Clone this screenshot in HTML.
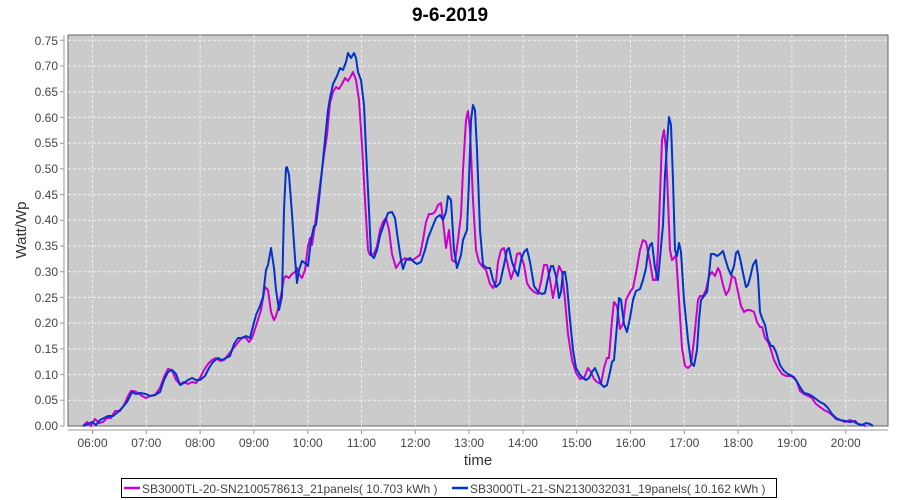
<!DOCTYPE html><html><head><meta charset="utf-8"><style>body{margin:0;background:#fff}svg{display:block}text{font-family:"Liberation Sans",sans-serif}</style></head><body>
<svg width="900" height="500" viewBox="0 0 900 500">
<text x="450" y="21" text-anchor="middle" font-size="19" font-weight="bold">9-6-2019</text>
<rect x="68" y="35" width="820" height="391" fill="#cbcbcb" stroke="#666"/>
<g stroke="#eee" stroke-dasharray="3,2" stroke-width="1">
<path d="M68 40.3H888M68 66H888M68 91.7H888M68 117.4H888M68 143.2H888M68 168.9H888M68 194.6H888M68 220.3H888M68 246H888M68 271.7H888M68 297.4H888M68 323.1H888M68 348.9H888M68 374.6H888M68 400.3H888"/>
<path d="M92.5 35V426M146.3 35V426M200.1 35V426M253.9 35V426M307.7 35V426M361.5 35V426M415.3 35V426M469.1 35V426M522.9 35V426M576.7 35V426M630.5 35V426M684.3 35V426M738.1 35V426M791.9 35V426M845.7 35V426"/>
</g>
<g stroke="#999"><path d="M64 35V426M68 430H888"/>
<path d="M60 40.3h4M60 66h4M60 91.7h4M60 117.4h4M60 143.2h4M60 168.9h4M60 194.6h4M60 220.3h4M60 246h4M60 271.7h4M60 297.4h4M60 323.1h4M60 348.9h4M60 374.6h4M60 400.3h4M60 426h4"/>
<path d="M92.5 430v4M146.3 430v4M200.1 430v4M253.9 430v4M307.7 430v4M361.5 430v4M415.3 430v4M469.1 430v4M522.9 430v4M576.7 430v4M630.5 430v4M684.3 430v4M738.1 430v4M791.9 430v4M845.7 430v4"/></g>
<g font-size="12" fill="#444" text-anchor="end">
<text x="58" y="45">0.75</text><text x="58" y="70">0.70</text><text x="58" y="96">0.65</text><text x="58" y="122">0.60</text><text x="58" y="147">0.55</text><text x="58" y="173">0.50</text><text x="58" y="199">0.45</text><text x="58" y="224">0.40</text><text x="58" y="250">0.35</text><text x="58" y="276">0.30</text><text x="58" y="302">0.25</text><text x="58" y="327">0.20</text><text x="58" y="353">0.15</text><text x="58" y="379">0.10</text><text x="58" y="404">0.05</text><text x="58" y="430">0.00</text></g>
<g font-size="12" fill="#444" text-anchor="middle">
<text x="92.5" y="447">06:00</text><text x="146.3" y="447">07:00</text><text x="200.1" y="447">08:00</text><text x="253.9" y="447">09:00</text><text x="307.7" y="447">10:00</text><text x="361.5" y="447">11:00</text><text x="415.3" y="447">12:00</text><text x="469.1" y="447">13:00</text><text x="522.9" y="447">14:00</text><text x="576.7" y="447">15:00</text><text x="630.5" y="447">16:00</text><text x="684.3" y="447">17:00</text><text x="738.1" y="447">18:00</text><text x="791.9" y="447">19:00</text><text x="845.7" y="447">20:00</text></g>
<text x="478" y="465" text-anchor="middle" font-size="15" fill="#333">time</text>
<text transform="translate(26 230) rotate(-90)" text-anchor="middle" font-size="15" fill="#333">Watt/Wp</text>
<polyline fill="none" stroke="#cc00cc" stroke-width="2" stroke-linejoin="round" points="83,426 87,422 91,426 95,419 99,423 103,422 107,418 111,418 115,411 120,411 124,405 128,396 131,391 134,391 138,393 142,396 146,398 150,396 155,395 160,388 164,377 168,369 172,370 176,380 180,384 184,382 188,384 192,382 196,383 200,378 204,370 208,364 212,360 216,358 220,361 224,360 228,355 232,350 236,345 240,340 243,337 246,338 249,342 252,338 256,326 261,310 265,287 268,290 271,312 274,320 276,316 279,305 282,290 284,278 286,276 289,278 292,274 295,272 297,268 299,274 302,278 305,270 308,246 310,238 312,245 315,225 318,200 321,178 324,155 327,135 330,103 333,92 336,87 339,89 342,84 345,78 348,81 351,76 353,72 356,80 359,100 362,145 365,200 368,250 370,255 374,254 377,246 380,230 383,222 386,218 389,230 392,254 396,268 400,262 405,258 409,260 413,260 417,257 420,255 423,240 426,222 429,214 432,214 435,212 438,205 441,203 444,230 446,248 449,230 452,260 455,262 458,240 461,215 463,170 466,120 468,111 470,130 473,200 476,250 479,262 482,266 486,270 490,284 493,288 496,282 498,262 501,250 504,248 508,266 511,279 514,270 517,254 520,253 524,265 527,283 530,288 534,292 538,294 541,282 544,265 547,265 550,280 553,298 556,282 559,266 562,272 565,300 568,334 572,360 576,373 580,379 584,378 588,368 591,372 594,379 597,382 601,384 604,368 607,358 609,358 612,320 614,302 617,306 620,329 623,324 626,300 630,292 633,288 636,273 640,250 643,240 646,242 650,262 653,280 656,280 658,250 660,195 662,140 664,130 666,150 668,200 670,250 672,260 674,258 676,255 679,300 682,348 685,366 688,368 691,365 694,340 696,320 698,300 700,296 703,296 706,290 709,276 712,272 715,276 718,268 720,272 723,285 726,295 729,290 732,276 735,278 738,292 741,306 744,312 747,310 750,310 754,312 757,322 760,327 762,327 765,338 768,342 771,350 774,360 778,368 782,374 786,376 790,376 794,377 797,382 800,391 804,394 808,396 812,398 816,404 820,407 824,410 828,412 832,415 836,419 840,420 845,422 850,420 854,422 858,424 862,425 866,426"/>
<polyline fill="none" stroke="#0033cc" stroke-width="2" stroke-linejoin="round" points="83,426 88,424 92,422 96,425 100,420 104,418 108,416 113,416 118,412 122,408 127,402 132,392 136,394 140,393 146,394 150,396 155,395 160,392 164,380 168,372 172,370 176,374 180,385 184,383 188,380 192,378 196,380 200,380 205,376 209,368 213,362 218,358 222,360 226,358 230,356 234,344 238,338 242,338 246,336 250,338 252,330 256,315 260,306 263,297 266,270 268,265 271,248 274,268 276,290 279,310 282,296 284,210 286,168 287,167 289,175 292,214 295,258 297,283 299,270 302,261 305,263 308,266 311,240 314,226 316,225 319,200 322,170 325,140 328,110 330,98 333,84 337,76 340,68 343,70 346,62 348,53 351,58 354,53 356,58 358,72 361,80 364,105 366,150 369,210 371,255 374,258 377,250 380,236 384,224 388,213 392,212 395,218 398,240 401,260 403,269 406,260 410,258 414,262 417,264 421,262 425,250 428,238 432,228 436,218 440,215 443,220 446,212 448,196 451,200 454,250 457,268 461,255 463,240 467,230 469,180 471,120 473,105 475,110 477,150 480,230 483,265 487,268 490,268 493,280 496,287 500,283 504,265 507,250 509,248 512,262 515,270 518,276 521,260 524,252 527,249 530,262 534,286 538,292 542,294 545,293 548,278 551,266 553,266 556,276 559,298 561,292 563,272 565,272 567,285 570,320 573,350 576,368 580,375 583,378 586,380 589,378 592,372 595,368 598,375 601,384 604,387 607,385 610,372 612,362 614,360 617,325 619,298 621,300 624,324 627,332 630,318 633,300 636,291 640,289 643,280 646,268 648,252 650,245 652,243 655,268 658,280 660,258 663,225 665,175 668,130 669,117 671,125 673,180 675,250 677,256 679,243 681,252 684,300 688,340 691,362 694,366 697,350 699,320 701,300 704,296 707,292 709,275 711,254 714,254 717,256 720,254 723,251 725,258 728,268 731,275 734,266 736,253 738,251 740,258 743,273 746,287 748,285 750,278 753,265 756,260 758,276 760,312 762,318 765,325 768,340 771,346 773,346 776,352 780,365 784,371 788,374 792,376 796,380 800,387 804,393 808,394 812,396 816,399 820,402 824,404 828,408 832,414 836,418 840,420 845,421 850,422 855,421 858,424 862,425 866,423 870,424 873,426"/>
<rect x="121.5" y="478.5" width="655" height="19" fill="#fff" stroke="#000"/>
<path d="M124 488h16" stroke="#cc00cc" stroke-width="2.5"/>
<text x="142" y="493" font-size="12" fill="#444">SB3000TL-20-SN2100578613_21panels( 10.703 kWh )</text>
<path d="M452 488h16" stroke="#0033cc" stroke-width="2.5"/>
<text x="470" y="493" font-size="12" fill="#444">SB3000TL-21-SN2130032031_19panels( 10.162 kWh )</text>
</svg></body></html>
